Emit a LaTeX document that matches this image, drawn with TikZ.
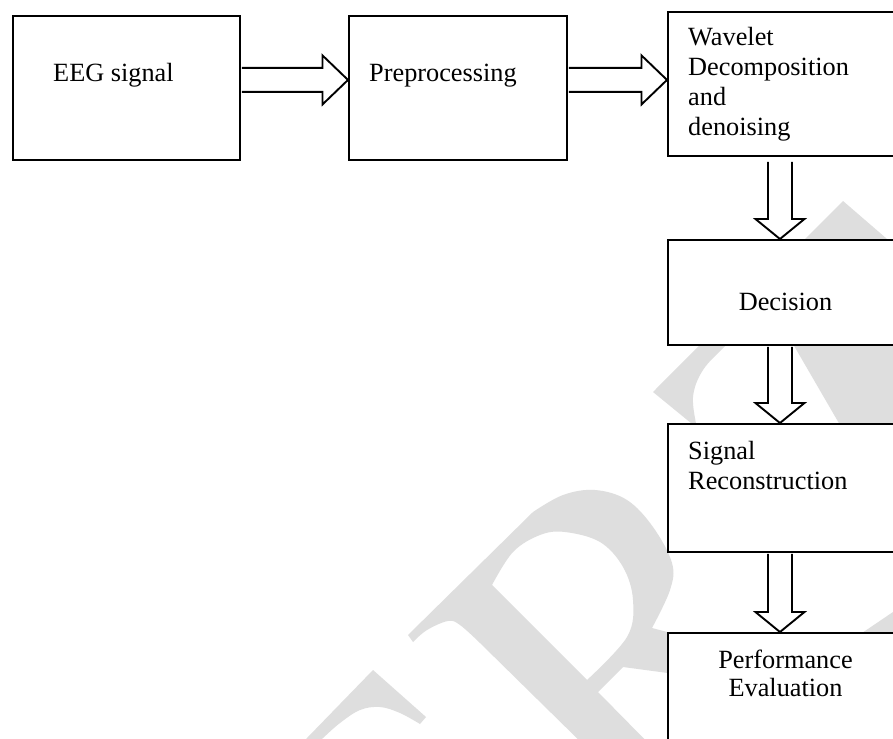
\documentclass[tikz,border=0pt]{standalone}
\usepackage{fontspec}
\setmainfont{Liberation Serif}
\usetikzlibrary{calc}
\pgfdeclarelayer{bg}
\pgfsetlayers{bg,main}
\definecolor{wm}{RGB}{222,222,222}
\tikzset{
  box/.style={draw=black, fill=white, line width=1.9pt, inner sep=0pt, anchor=north west},
  barrow/.style={draw=black, fill=white, line width=1.9pt, line join=miter},
  lbl/.style={inner sep=0pt, font=\fontsize{26.3}{30}\selectfont},
  wmark/.style={fill=wm, draw=none},
}
\newcommand{\myharrow}[3]{%
  \coordinate (#3s) at ($(#1.east)+(0,-8)$);
  \coordinate (#3t) at (#2.west |- #3s);
  \draw[barrow] ($(#3s)+(0.9,-12)$) -- ($(#3t)+(-25.5,-12)$) -- ($(#3t)+(-25.5,-24.5)$) -- (#3t)
    -- ($(#3t)+(-25.5,24.5)$) -- ($(#3t)+(-25.5,12)$) -- ($(#3s)+(0.9,12)$);
}
\newcommand{\myvarrow}[4]{%
  \coordinate (#3s) at ($(#1.south)+(-38,#4)$);
  \coordinate (#3t) at (#3s |- #2.north);
  \draw[barrow] ($(#3s)+(-12,0.9)$) -- ($(#3t)+(-12,-20)$) -- ($(#3t)+(-24.5,-20)$) -- (#3t)
    -- ($(#3t)+(24.5,-20)$) -- ($(#3t)+(12,-20)$) -- ($(#3s)+(12,0.9)$);
}
\begin{document}
\begin{tikzpicture}[x=1pt,y=-1pt]
\useasboundingbox (0,0) rectangle (893,738);
\clip (0,0) rectangle (893,738);

% boxes
\node[box, minimum width=227pt, minimum height=144pt] (eeg) at (12,15) {};
\node[box, minimum width=218pt, minimum height=144pt] (prep) at (348,15) {};
\node[box, minimum width=300pt, minimum height=144pt] (wav) at (667,11) {};
\node[box, minimum width=300pt, minimum height=105pt] (dec) at (667,239) {};
\node[box, minimum width=300pt, minimum height=128pt] (rec) at (667,423) {};
\node[box, minimum width=300pt, minimum height=150pt] (perf) at (667,632) {};

% labels
\node[lbl, anchor=base west] (teeg) at ($(eeg.north west)+(41,67)$) {EEG signal};
\node[lbl, anchor=base west] (tprep) at ($(prep.north west)+(21,67)$) {Preprocessing};
\node[lbl, anchor=base west] (twav1) at ($(wav.north west)+(21,34.7)$) {Wavelet};
\node[lbl, anchor=base west] (twav2) at ($(wav.north west)+(21,64.7)$) {Decomposition};
\node[lbl, anchor=base west] (twav3) at ($(wav.north west)+(21,94.7)$) {and};
\node[lbl, anchor=base west] (twav4) at ($(wav.north west)+(21,124.7)$) {denoising};
\node[lbl, anchor=base] (tdec) at ($(dec.north west)+(118.5,71.7)$) {Decision};
\node[lbl, anchor=base west] (trec1) at ($(rec.north west)+(21,36)$) {Signal};
\node[lbl, anchor=base west] (trec2) at ($(rec.north west)+(21,66)$) {Reconstruction};
\node[lbl, anchor=base] (tperf1) at ($(perf.north west)+(118.5,36.3)$) {Performance};
\node[lbl, anchor=base] (tperf2) at ($(perf.north west)+(118.5,64.7)$) {Evaluation};

\begin{pgfonlayer}{bg}
\begin{scope}
\clip (0,0) rectangle (893,738);
\fill[white] (0,0) rectangle (893,738);
% watermark
\fill[wmark, even odd rule] (408,635) -- plot[smooth, tension=0.6] coordinates {(533,512) (563,495) (595,490) (627,500) (653,527) (672,563) (670,590) (652,628)}
  -- (720,646) -- (720,680) -- (623,667) -- (598,692) -- (660,755) -- (594,755) -- (480,643)
  -- plot[smooth, tension=0.6] coordinates {(480,643) (460,625) (448,621) (427,630) (413,642)} -- cycle
  (492,585) -- plot[smooth, tension=0.6] coordinates {(492,585) (513,552) (540,535) (565,532) (600,542) (623,567) (633,600) (627,637) (587,680)} -- cycle;
\fill[wmark] (843,201) -- (653,392) -- (697,428)
  -- plot[smooth, tension=0.6] coordinates {(697,428) (693,397) (703,370) (727,344) (760,310) (790,285)}
  -- (793,344) -- (840,425) -- (870,470) -- (960,470) -- (960,302) -- cycle;
\fill[wmark] (300,745) -- (307,738) -- (373,670) -- (426,717) -- (420,724)
  -- plot[smooth, tension=0.6] coordinates {(420,724) (400,713) (380,707) (360,710) (340,723) (323,738) (316,745)} -- cycle;
\fill[wmark] (862,633) -- (893,612) -- (893,633) -- cycle;
\end{scope}
% block arrows
\myharrow{eeg}{prep}{ha}
\myharrow{prep}{wav}{hb}
\myvarrow{wav}{dec}{va}{4}
\myvarrow{dec}{rec}{vb}{0}
\myvarrow{rec}{perf}{vc}{0}
\end{pgfonlayer}
\end{tikzpicture}
\end{document}
